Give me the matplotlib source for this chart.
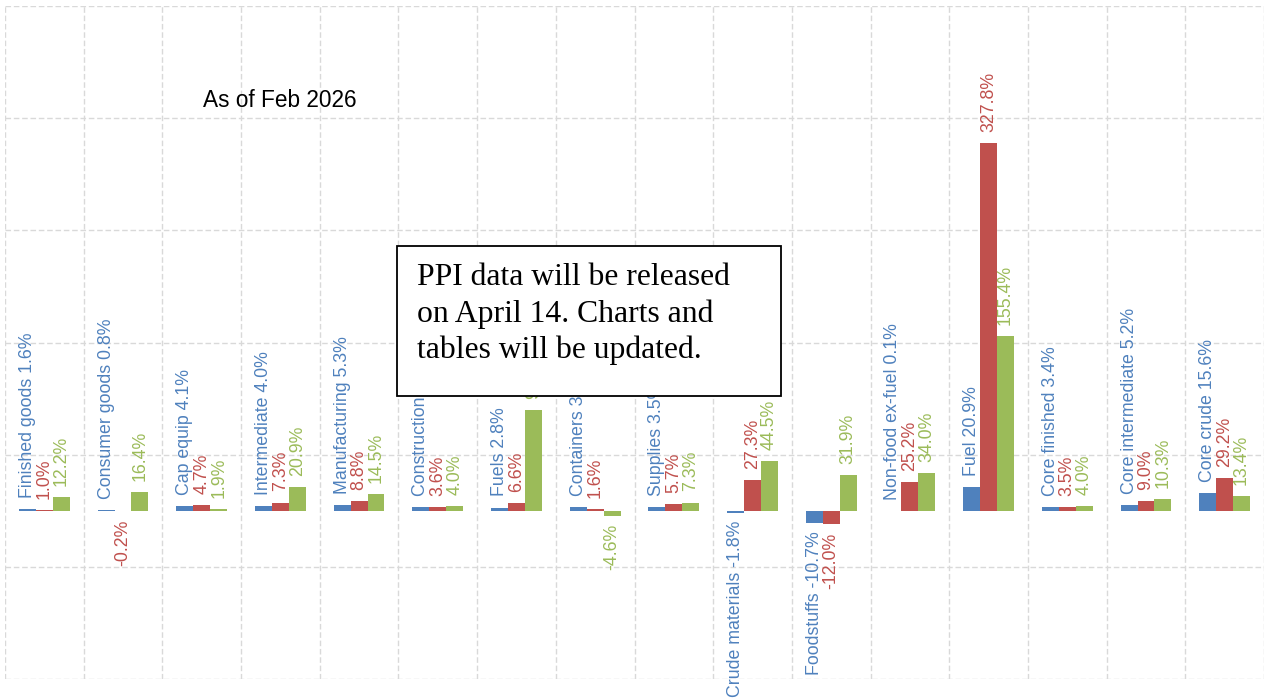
import matplotlib.pyplot as plt
from matplotlib.patches import Rectangle
import numpy as np

categories = ['Finished goods', 'Consumer goods', 'Cap equip', 'Intermediate',
              'Manufacturing', 'Construction', 'Fuels', 'Containers', 'Supplies',
              'Crude materials', 'Foodstuffs', 'Non-food ex-fuel', 'Fuel',
              'Core finished', 'Core intermediate', 'Core crude']
blue_vals = [1.6, 0.8, 4.1, 4.0, 5.3, 3.4, 2.8, 3.3, 3.5, -1.8, -10.7, 0.1, 20.9, 3.4, 5.2, 15.6]
red_vals = [1.0, -0.2, 4.7, 7.3, 8.8, 3.6, 6.6, 1.6, 5.7, 27.3, -12.0, 25.2, 327.8, 3.5, 9.0, 29.2]
green_vals = [12.2, 16.4, 1.9, 20.9, 14.5, 4.0, 90.1, -4.6, 7.3, 44.5, 31.9, 34.0, 155.4, 4.0, 10.3, 13.4]

colors = ['#4F81BD', '#C0504D', '#9BBB59']
lab_font = ['Liberation Sans', 'DejaVu Sans']

W, H = 1265, 698
fig = plt.figure(figsize=(W / 100, H / 100), dpi=100)
ax = fig.add_axes([5 / W, (H - 679) / H, 1259 / W, 673 / H])

x = np.arange(len(categories))
bw = 0.215
series = [blue_vals, red_vals, green_vals]
for k, vals in enumerate(series):
    xs = x + (k - 1) * bw
    ax.bar(xs, vals, width=bw, color=colors[k], zorder=2)
    for i, v in enumerate(vals):
        txt = f'{v:.1f}%'
        if k == 0:
            txt = f'{categories[i]} {v:.1f}%'
        if v >= 0:
            ax.annotate(txt, (xs[i], v), xytext=(0, 8), textcoords='offset points',
                        rotation=90, ha='center', va='bottom', color=colors[k],
                        fontsize=12.8, family=lab_font, zorder=3)
        else:
            ax.annotate(txt, (xs[i], v), xytext=(0, -6), textcoords='offset points',
                        rotation=90, ha='center', va='top', color=colors[k],
                        fontsize=12.8, family=lab_font, zorder=3)

ax.set_xlim(-0.5, len(categories) - 0.5)
ax.set_ylim(-150, 450)
ax.set_xticks(np.arange(len(categories) + 1) - 0.5)
ax.set_yticks(np.arange(-150, 451, 100))
ax.tick_params(length=0, labelbottom=False, labelleft=False)
ax.grid(True, color='#d9d9d9', linestyle=(0, (4, 2)), linewidth=1)
ax.set_axisbelow(True)
for s in ax.spines.values():
    s.set_visible(False)

fig.text(203 / W, (H - 107) / H, 'As of Feb 2026', fontsize=16.3, family=lab_font,
         ha='left', va='baseline', color='black')

# note box
fig.add_artist(Rectangle((397 / W, (H - 396) / H), 384 / W, 150 / H,
                         transform=fig.transFigure, facecolor='white',
                         edgecolor='black', linewidth=1.3, zorder=5))
note_lines = ['PPI data will be released', 'on April 14. Charts and',
              'tables will be updated.']
for j, line in enumerate(note_lines):
    fig.text(417 / W, (H - (285 + 36.7 * j)) / H, line, fontsize=22.8,
             family='Liberation Serif', ha='left', va='baseline', zorder=6)

fig.savefig('out.png', dpi=100)
